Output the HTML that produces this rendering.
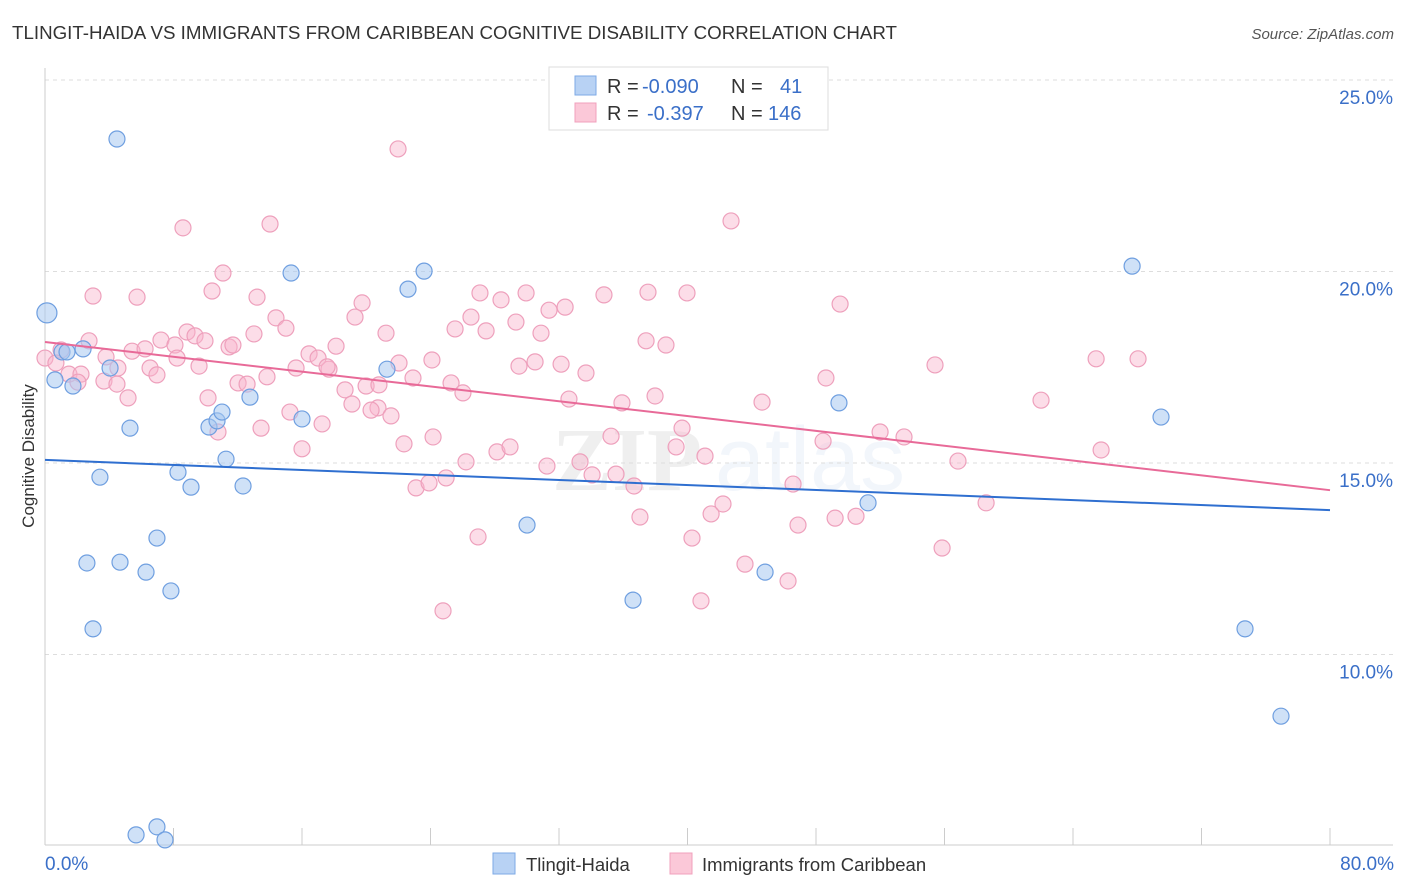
<!DOCTYPE html>
<html><head><meta charset="utf-8">
<style>
body{margin:0;background:#fff;font-family:"Liberation Sans",sans-serif;}
svg{display:block}
</style></head><body>
<svg id="chart" width="1406" height="892" viewBox="0 0 1406 892" xmlns="http://www.w3.org/2000/svg" font-family="Liberation Sans, sans-serif">
<text x="12" y="39" font-size="18" fill="#333" textLength="885" lengthAdjust="spacingAndGlyphs">TLINGIT-HAIDA VS IMMIGRANTS FROM CARIBBEAN COGNITIVE DISABILITY CORRELATION CHART</text>
<text x="1394" y="39" font-size="15" fill="#555" text-anchor="end" font-style="italic">Source: ZipAtlas.com</text>
<g font-size="90" fill="#000" opacity="0.06" font-weight="bold"><text x="552" y="490" font-family="Liberation Serif, serif">ZIP</text><text x="715" y="490" fill="#3a6fc8" font-weight="normal">atlas</text></g>
<g id="grid"></g>
<g id="axes"></g>
<g id="pink"></g>
<g id="blue"></g>
<g id="trends"></g>
<text transform="translate(34,456) rotate(-90)" font-size="17" fill="#333" text-anchor="middle">Cognitive Disability</text>
<text x="45" y="870" font-size="19" fill="#3a6fc8">0.0%</text>
<text x="1394" y="870" font-size="19" fill="#3a6fc8" text-anchor="end">80.0%</text>
<g>
<rect x="549" y="67" width="279" height="63" fill="#fff" stroke="#ddd"/>
<rect x="575" y="76" width="21" height="19" fill="#b8d2f4" stroke="#7eaae6"/>
<rect x="575" y="103" width="21" height="19" fill="#fbc8d8" stroke="#f0a0bc"/>
<text x="607" y="93" font-size="20" fill="#333">R = <tspan x="642" fill="#3a6fc8">-0.090</tspan><tspan x="731">N = </tspan><tspan x="780" fill="#3a6fc8">41</tspan></text>
<text x="607" y="120" font-size="20" fill="#333">R = <tspan x="647" fill="#3a6fc8">-0.397</tspan><tspan x="731">N = </tspan><tspan x="768" fill="#3a6fc8">146</tspan></text>
</g>
<g>
<rect x="493" y="853" width="22" height="21" fill="#b8d2f4" stroke="#7eaae6"/>
<text x="526" y="871" font-size="18.5" fill="#333">Tlingit-Haida</text>
<rect x="670" y="853" width="22" height="21" fill="#fbc8d8" stroke="#f0a0bc"/>
<text x="702" y="871" font-size="18.5" fill="#333">Immigrants from Caribbean</text>
</g>
</svg>
<script>
const yTicks=[25,20,15,10];
const yTickLabels=["25.0%","20.0%","15.0%","10.0%"];
const xTicks=[0,8,16,24,32,40,48,56,64,72,80];
const blueX=[4.48,0.12,0.62,1.06,1.37,2.37,1.74,4.05,5.29,3.42,2.61,4.67,6.29,6.97,7.84,2.99,5.67,6.97,7.47,8.28,9.09,10.21,10.71,11.02,11.27,12.33,12.76,15.32,16.0,21.29,22.60,23.60,30.01,36.61,44.83,49.43,51.24,67.68,69.48,74.71,76.95];
const blueY=[23.46,18.92,17.17,17.90,17.90,17.98,17.01,17.48,15.91,14.63,12.39,12.41,12.15,13.04,11.66,10.67,5.29,5.50,5.16,14.76,14.37,15.94,16.10,16.33,15.10,14.40,16.72,19.96,16.15,17.45,19.54,20.01,13.38,11.42,12.15,16.57,13.96,20.14,16.20,10.67,8.39];
const pinkX=[21.98,42.71,8.59,14.01,11.08,2.99,5.73,10.40,13.20,19.74,27.08,28.39,29.95,31.38,32.38,34.80,37.54,39.97,49.50,14.38,15.00,19.30,26.52,29.32,21.23,25.53,27.46,30.88,37.42,38.66,2.74,1.0,0,0.68,3.80,5.42,6.23,7.22,8.09,8.84,9.34,9.96,11.46,11.70,13.01,16.44,17.0,17.68,18.12,17.56,1.49,2.24,2.05,3.67,4.54,4.48,5.17,6.54,6.97,8.22,9.59,10.15,10.77,12.02,12.58,13.82,13.45,15.25,15.63,16.0,17.25,18.68,19.11,19.99,20.73,21.54,20.79,22.04,22.91,24.09,22.35,23.10,23.91,24.16,24.97,25.28,26.02,26.21,26.96,28.14,28.95,29.51,30.51,31.25,32.13,32.62,33.31,33.68,34.06,35.24,35.55,35.92,36.67,37.04,37.98,39.29,39.66,40.28,41.09,41.47,42.21,40.84,43.58,44.64,46.26,46.57,46.88,48.44,48.62,49.19,50.49,51.99,53.48,55.41,55.85,56.84,58.59,62.01,65.44,65.75,68.05,24.78,20.30];
const pinkY=[23.2,21.32,21.14,21.24,19.96,19.36,19.33,19.49,19.33,19.18,19.44,19.26,19.44,18.99,19.07,19.39,19.46,19.44,19.15,18.79,18.52,18.81,18.81,18.68,18.39,18.50,18.45,18.39,18.19,18.08,18.19,17.95,17.74,17.61,17.77,17.92,17.98,18.21,18.08,18.42,18.32,18.19,18.03,18.08,18.37,17.85,17.74,17.45,18.05,17.51,17.32,17.32,17.11,17.14,17.48,17.06,16.70,17.48,17.30,17.74,17.53,16.70,15.81,17.09,17.06,17.25,15.91,16.33,17.48,15.37,16.02,16.91,16.54,17.01,16.44,16.23,17.04,17.61,17.22,17.69,15.50,14.35,14.48,15.68,14.61,17.09,16.83,15.03,13.07,15.29,15.42,17.53,17.64,14.92,17.58,16.67,15.03,17.35,14.69,15.70,14.71,16.57,14.40,13.59,16.75,15.42,15.91,13.04,15.18,13.67,13.93,11.40,12.36,16.59,11.92,14.45,13.38,15.57,17.22,13.56,13.61,15.81,15.68,17.56,12.78,15.05,13.96,16.64,17.72,15.34,17.72,11.14,16.38];
const blueTrend=[15.08,13.77];
const pinkTrend=[18.16,14.29];
const NS="http://www.w3.org/2000/svg";
function xs(v){return 45+v/80*1285;}
function ys(v){return 80+(25-v)/5*191.5;}
function mk(tag,attrs,parent){const e=document.createElementNS(NS,tag);for(const k in attrs)e.setAttribute(k,attrs[k]);parent.appendChild(e);return e;}
const grid=document.getElementById('grid'),axes=document.getElementById('axes');
yTicks.forEach((t,i)=>{
  const l=mk('line',{x1:45,x2:1393,y1:ys(t),y2:ys(t),stroke:'#ddd','stroke-dasharray':'4,4'},grid);
  
  
  const tx=mk('text',{x:1393,y:ys(t)+24,'font-size':19,fill:'#3a6fc8','text-anchor':'end'},axes);
  tx.textContent=yTickLabels[i];
  
  
});
const ya=mk('line',{x1:45,x2:45,y1:68,y2:845,stroke:'#ccc'},axes);


const xa=mk('line',{x1:45,x2:1393,y1:845,y2:845,stroke:'#ccc'},axes);


xTicks.forEach(t=>{
  const l=mk('line',{x1:xs(t),x2:xs(t),y1:828,y2:845,stroke:'#ccc'},axes);
  
  
});
const pg=document.getElementById('pink');
pinkX.forEach((x,i)=>{
  const c=mk('circle',{cx:xs(x),cy:ys(pinkY[i]),r:8,fill:'rgba(248,180,204,0.45)',stroke:'#eea0bc','stroke-width':1.2},pg);
  
  
});
const bg=document.getElementById('blue');
blueX.forEach((x,i)=>{
  const r=(i==1)?10:8;
  const c=mk('circle',{cx:xs(x),cy:ys(blueY[i]),r:r,fill:'rgba(168,200,240,0.55)',stroke:'#6f9fe0','stroke-width':1.2},bg);
  
  
});
const tg=document.getElementById('trends');
const bl=mk('line',{x1:xs(0),y1:ys(blueTrend[0]),x2:xs(80),y2:ys(blueTrend[1]),stroke:'#2f6fd0','stroke-width':2},tg);


const pl=mk('line',{x1:xs(0),y1:ys(pinkTrend[0]),x2:xs(80),y2:ys(pinkTrend[1]),stroke:'#e86a98','stroke-width':2},tg);


</script>
</body></html>
